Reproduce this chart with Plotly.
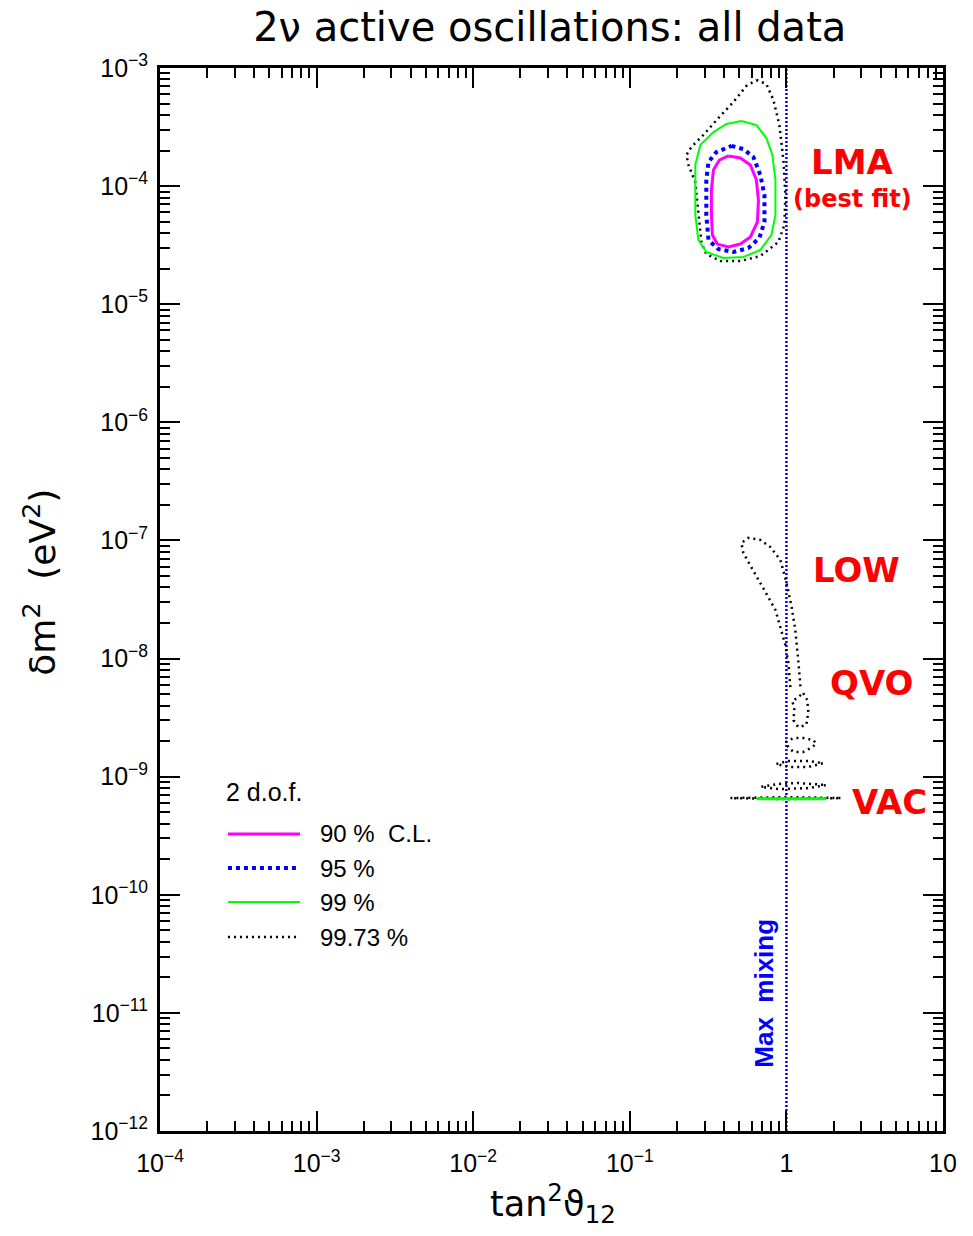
import plotly.graph_objects as go

# ---------------- data (tan^2 theta12, delta m^2 [eV^2]) ----------------
cl90_x = [0.426, 0.508, 0.589, 0.643, 0.663, 0.653, 0.589, 0.508, 0.426, 0.362, 0.337, 0.332, 0.332, 0.342, 0.373, 0.426]
cl90_y = [1.80e-4, 1.73e-4, 1.51e-4, 1.13e-4, 7.6e-5, 4.97e-5, 3.71e-5, 3.23e-5, 3.05e-5, 3.23e-5, 3.85e-5, 5.7e-5, 9.27e-5, 1.37e-4, 1.66e-4, 1.80e-4]

cl95_x = [0.446, 0.531, 0.616, 0.682, 0.724, 0.724, 0.672, 0.572, 0.459, 0.368, 0.318, 0.308, 0.308, 0.318, 0.357, 0.446]
cl95_y = [2.19e-4, 2.06e-4, 1.76e-4, 1.24e-4, 8.4e-5, 4.97e-5, 3.64e-5, 2.99e-5, 2.77e-5, 2.93e-5, 3.5e-5, 5.7e-5, 1.13e-4, 1.60e-4, 1.94e-4, 2.19e-4]

cl99_x = [0.516, 0.643, 0.745, 0.814, 0.851, 0.851, 0.802, 0.682, 0.531, 0.396, 0.308, 0.274, 0.262, 0.262, 0.282, 0.342, 0.414, 0.516]
cl99_y = [3.56e-4, 3.29e-4, 2.55e-4, 1.83e-4, 1.13e-4, 5.7e-5, 3.85e-5, 2.88e-5, 2.51e-5, 2.46e-5, 2.77e-5, 3.5e-5, 5.7e-5, 1.51e-4, 2.23e-4, 2.87e-4, 3.36e-4, 3.56e-4]
vac99_x = [0.643, 1.80]
vac99_y = [6.5e-10, 6.5e-10]

lma3s_x = [0.643, 0.745, 0.826, 0.902, 0.957, 0.985, 0.971, 0.889, 0.682, 0.508, 0.379, 0.308, 0.287, 0.274, 0.262, 0.237, 0.230, 0.247, 0.295, 0.368, 0.459, 0.555, 0.643]
lma3s_y = [7.91e-4, 7.32e-4, 5.36e-4, 3.29e-4, 1.66e-4, 8.41e-5, 4.69e-5, 3.36e-5, 2.56e-5, 2.32e-5, 2.32e-5, 2.66e-5, 3.3e-5, 6.28e-5, 1.08e-4, 1.51e-4, 1.83e-4, 2.14e-4, 2.71e-4, 3.77e-4, 5.15e-4, 7.04e-4, 7.91e-4]

low3s_x = [1.06, 1.030, 0.985, 0.929, 0.851, 0.734, 0.598, 0.531, 0.516, 0.572, 0.682, 0.790, 0.916, 1.0, 1.08, 1.14, 1.19, 1.23]
low3s_y = [5.74e-9, 9.16e-9, 1.30e-8, 1.74e-8, 2.58e-8, 3.66e-8, 5.95e-8, 7.82e-8, 9.5e-8, 1.05e-7, 1.01e-7, 8.79e-8, 6.82e-8, 4.44e-8, 2.73e-8, 1.74e-8, 9.7e-9, 5.74e-9]

qvoA_x = [1.28, 1.36, 1.38, 1.34, 1.19, 1.11, 1.125, 1.09, 1.19, 1.28]
qvoA_y = [5.1e-9, 4.45e-9, 3.52e-9, 2.74e-9, 2.63e-9, 3.01e-9, 3.81e-9, 4.35e-9, 4.72e-9, 5.1e-9]
qvoB_x = [0.985, 1.108, 1.28, 1.49, 1.55, 1.42, 1.28, 1.108, 1.03, 0.985]
qvoB_y = [1.96e-9, 2.12e-9, 2.12e-9, 2.04e-9, 1.89e-9, 1.74e-9, 1.62e-9, 1.62e-9, 1.78e-9, 1.96e-9]
qvoC_x = [0.863, 1.03, 1.38, 1.72, 1.38, 1.03, 0.863]
qvoC_y = [1.28e-9, 1.36e-9, 1.36e-9, 1.30e-9, 1.21e-9, 1.21e-9, 1.28e-9]
qvoD_x = [0.692, 0.889, 1.19, 1.80, 1.38, 0.889, 0.692]
qvoD_y = [8.2e-10, 8.68e-10, 8.83e-10, 8.5e-10, 8.0e-10, 7.85e-10, 8.2e-10]
vac3s_x = [0.439, 1.0, 2.24, 1.0, 0.439]
vac3s_y = [6.59e-10, 6.72e-10, 6.59e-10, 6.45e-10, 6.59e-10]

maxmix_x = [1.0, 1.0]
maxmix_y = [1e-12, 1e-3]

x_tick_vals = [1e-4, 1e-3, 1e-2, 1e-1, 1, 10]
x_tick_text = ["10<sup>−4</sup>", "10<sup>−3</sup>", "10<sup>−2</sup>", "10<sup>−1</sup>", "1", "10"]
y_exps = [-12, -11, -10, -9, -8, -7, -6, -5, -4, -3]
y_tick_vals = [10.0 ** e for e in y_exps]
y_tick_text = ["10<sup>−%d</sup>" % (-e) for e in y_exps]

legend_labels = ["90 %  C.L.", "95 %", "99 %", "99.73 %"]

# ---------------- styles ----------------
MAG = dict(color="#FF00FF", width=3)
BLU = dict(color="#0000FF", width=4, dash="4px,4px")
GRN = dict(color="#00FF00", width=2)
BLK = dict(color="#000000", width=2.5, dash="2px,4px")

fig = go.Figure()

def add(x, y, line):
    fig.add_trace(go.Scatter(x=x, y=y, mode="lines", line=line, showlegend=False, hoverinfo="skip"))

add(maxmix_x, maxmix_y, dict(color="#0000FF", width=2.5, dash="2px,2px"))
for xs, ys in [(lma3s_x, lma3s_y), (low3s_x, low3s_y), (qvoA_x, qvoA_y), (qvoB_x, qvoB_y),
               (qvoC_x, qvoC_y), (qvoD_x, qvoD_y), (vac3s_x, vac3s_y)]:
    add(xs, ys, BLK)
add(cl99_x, cl99_y, GRN)
add(vac99_x, vac99_y, dict(color="#00FF00", width=3))
add(cl95_x, cl95_y, BLU)
add(cl90_x, cl90_y, MAG)

# ---------------- axes ----------------
minor_vals_x = [m * 10.0 ** e for e in range(-4, 1) for m in range(2, 10)]
minor_vals_y = [m * 10.0 ** e for e in range(-12, -3) for m in range(2, 10)]

axis_common = dict(
    type="log", showgrid=False, zeroline=False,
    showline=True, linewidth=3, linecolor="black", mirror="ticks",
    ticks="inside", ticklen=20, tickwidth=1.5, tickcolor="black",
    tickmode="array",
    tickfont=dict(family="Liberation Sans, Arial", size=25, color="black"),
    automargin=False,
)

fig.update_xaxes(range=[-4, 1], tickvals=x_tick_vals, ticktext=x_tick_text, ticklabelstandoff=8,
                 **axis_common,
                 minor=dict(tickmode="array", tickvals=minor_vals_x, ticks="inside", ticklen=10,
                            tickwidth=1.5, tickcolor="black", showgrid=False))
fig.update_yaxes(range=[-12, -3], tickvals=y_tick_vals, ticktext=y_tick_text, ticklabelstandoff=4,
                 **axis_common,
                 minor=dict(tickmode="array", tickvals=minor_vals_y, ticks="inside", ticklen=10,
                            tickwidth=1.5, tickcolor="black", showgrid=False))

# ---------------- text ----------------
ann = []
red = dict(family="DejaVu Sans", color="#FF0000")
ann.append(dict(text="<b>LMA</b>", x=0.884, y=0.9116, font=dict(size=34, **red)))
ann.append(dict(text="<b>(best fit)</b>", x=0.885, y=0.8768, font=dict(size=24, **red)))
ann.append(dict(text="<b>LOW</b>", x=0.890, y=0.5278, font=dict(size=34, **red)))
ann.append(dict(text="<b>QVO</b>", x=0.909, y=0.4214, font=dict(size=34, **red)))
ann.append(dict(text="<b>VAC</b>", x=0.932, y=0.3095, font=dict(size=34, **red)))
ann.append(dict(text="<b>Max  mixing</b>", x=0.771, y=0.1298, textangle=-90,
                font=dict(family="Liberation Sans, Arial", size=26, color="#0000FF")))

# axis titles
ann.append(dict(text="tan<sup>2</sup>ϑ<sub>12</sub>", x=0.502, y=-0.068,
                font=dict(family="DejaVu Sans", size=35, color="black")))
ann.append(dict(text="δm<sup>2</sup>  (eV<sup>2</sup>)", x=-0.153, y=0.516, textangle=-90,
                font=dict(family="DejaVu Sans", size=36, color="black")))

# legend
ann.append(dict(text="2 d.o.f.", x=0.0817, y=0.3189, xanchor="left",
                font=dict(family="Liberation Sans, Arial", size=25, color="black")))
leg_y = [0.2794, 0.2474, 0.2154, 0.1825]
leg_lines = [MAG, BLU, GRN, BLK]
shapes = []
for lab, yy, ln in zip(legend_labels, leg_y, leg_lines):
    ann.append(dict(text=lab, x=0.2018, y=yy, xanchor="left",
                    font=dict(family="Liberation Sans, Arial", size=24, color="black")))
    shapes.append(dict(type="line", xref="paper", yref="paper", x0=0.0868, x1=0.1788,
                       y0=yy, y1=yy, line=ln))

for a in ann:
    a.setdefault("xref", "paper")
    a.setdefault("yref", "paper")
    a.setdefault("showarrow", False)
    a.setdefault("xanchor", "center")
    a.setdefault("yanchor", "middle")

fig.update_layout(
    width=973, height=1236,
    margin=dict(l=160, r=30, t=68, b=105),
    paper_bgcolor="white", plot_bgcolor="white",
    title=dict(text="2ν active oscillations: all data", x=0.565, xanchor="center", y=0.978, yanchor="middle",
               font=dict(family="DejaVu Sans", size=40, color="black")),
    annotations=ann, shapes=shapes,
)

fig.write_html("out.html")
